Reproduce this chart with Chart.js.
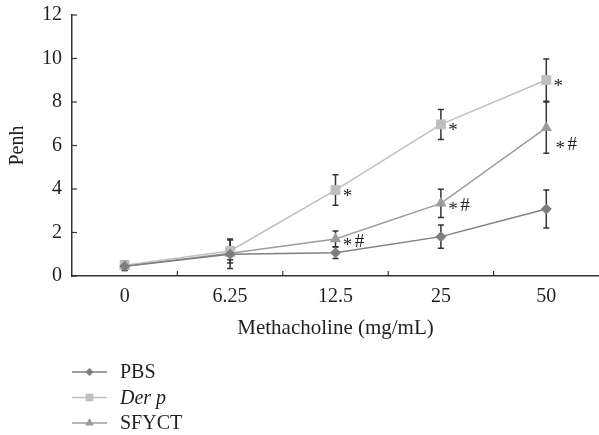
<!DOCTYPE html>
<html>
<head>
<meta charset="utf-8">
<script src="https://cdn.jsdelivr.net/npm/chart.js@4.4.1/dist/chart.umd.min.js"></script>
<style>
  html, body { margin: 0; padding: 0; background: #fff; }
</style>
</head>
<body>
<canvas id="myChart" width="599" height="435"></canvas>
<script>
// Datos
const dosis = ["0", "6.25", "12.5", "25", "50"]; // mg/mL
const pbs = [0.45, 1.0, 1.07, 1.81, 3.08];
const pbsErr = [0.2, 0.65, 0.27, 0.53, 0.87];
const derp = [0.5, 1.15, 3.95, 6.97, 9.01];
const derpErr = [0.2, 0.55, 0.7, 0.69, 0.97];
const sfyct = [0.45, 1.05, 1.7, 3.34, 6.82];
const sfyctErr = [0.15, 0.3, 0.37, 0.65, 1.18];
const derpMarcas = ["", "", "*", "*", "*"];
const sfyctMarcas = ["", "", "*#", "*#", "*#"];
const yTicks = [0, 2, 4, 6, 8, 10, 12];

const fuente = "'Liberation Serif', 'DejaVu Serif', serif";
const negro = "#333333";
const texto = "#231f20";

//--------------------------- barras de error, marcas y leyenda ---------------------------//
const extras = {
  id: "extras",
  beforeDatasetsDraw(chart) {
    const ctx = chart.ctx;
    const y = chart.scales.y;
    ctx.save();
    ctx.strokeStyle = negro;
    ctx.lineWidth = 1.5;
    chart.data.datasets.forEach((ds, i) => {
      const meta = chart.getDatasetMeta(i);
      meta.data.forEach((p, j) => {
        const top = y.getPixelForValue(ds.data[j] + ds.errores[j]);
        const bot = y.getPixelForValue(ds.data[j] - ds.errores[j]);
        ctx.beginPath();
        ctx.moveTo(p.x, top); ctx.lineTo(p.x, bot);
        ctx.moveTo(p.x - 3, top); ctx.lineTo(p.x + 3, top);
        ctx.moveTo(p.x - 3, bot); ctx.lineTo(p.x + 3, bot);
        ctx.stroke();
      });
    });
    ctx.restore();
  },
  afterDraw(chart) {
    const ctx = chart.ctx;
    const x = chart.scales.x, y = chart.scales.y;
    ctx.save();
    // ticks hacia adentro
    ctx.strokeStyle = negro;
    ctx.lineWidth = 1.2;
    yTicks.forEach((v) => {
      const py = y.getPixelForValue(v);
      ctx.beginPath(); ctx.moveTo(x.left, py); ctx.lineTo(x.left + 5, py); ctx.stroke();
    });
    const medio = (x.getPixelForValue(1) - x.getPixelForValue(0)) / 2;
    for (let i = 1; i < dosis.length; i++) {
      const px = x.getPixelForValue(i) - medio;
      ctx.beginPath(); ctx.moveTo(px, y.bottom); ctx.lineTo(px, y.bottom - 5); ctx.stroke();
    }

    // asteriscos y #
    ctx.fillStyle = texto;
    ctx.font = "19px " + fuente;
    ctx.textAlign = "center";
    ctx.textBaseline = "alphabetic";
    [[1, derpMarcas], [2, sfyctMarcas]].forEach(([i, marcas]) => {
      const meta = chart.getDatasetMeta(i);
      marcas.forEach((m, j) => {
        if (!m) return;
        const p = meta.data[j];
        let cx = p.x + 12, cy = p.y + 2;
        if (i === 2 && j === marcas.length - 1) { cx = p.x + 14; cy = p.y + 16; }
        if (m.includes("*")) ctx.fillText("*", cx, cy + 10);
        if (m.includes("#")) ctx.fillText("#", cx + 12, cy + 6);
      });
    });

    // leyenda
    ctx.textAlign = "left";
    chart.data.datasets.forEach((ds, i) => {
      const ly = 372 + i * 25.5;
      ctx.strokeStyle = ds.borderColor;
      ctx.lineWidth = 1.5;
      ctx.beginPath(); ctx.moveTo(72, ly); ctx.lineTo(107, ly); ctx.stroke();
      ctx.fillStyle = ds.pointBackgroundColor;
      Chart.helpers.drawPoint(ctx, { pointStyle: ds.pointStyle, radius: ds.pointRadius - 1.5, borderWidth: 0 }, 89.5, ly);
      ctx.fillStyle = texto;
      ctx.font = (ds.label === "Der p" ? "italic " : "") + "20px " + fuente;
      ctx.textBaseline = "middle";
      ctx.fillText(ds.label, 120, ly + 1);
    });
    ctx.restore();
  }
};

function serie(label, data, errores, color, estilo, radio) {
  return {
    label: label,
    data: data,
    errores: errores,
    borderColor: color,
    backgroundColor: color,
    pointBackgroundColor: color,
    pointBorderWidth: 0,
    pointStyle: estilo,
    pointRadius: radio,
    borderWidth: 1.5,
    tension: 0,
    clip: false,
  };
}

const config = {
  type: "line",
  data: {
    labels: dosis,
    datasets: [
      serie("PBS", pbs, pbsErr, "#7f7f7f", "rectRot", 5.5),
      serie("Der p", derp, derpErr, "#bfbfbf", "rect", 7),
      serie("SFYCT", sfyct, sfyctErr, "#9c9c9c", "triangle", 6.5),
    ],
  },
  options: {
    responsive: false,
    animation: false,
    devicePixelRatio: 1,
    layout: { autoPadding: false, padding: { top: 15, left: 0, right: 0, bottom: 94 } },
    plugins: { legend: { display: false }, tooltip: { enabled: false } },
    scales: {
      x: {
        offset: true,
        grid: { display: false, drawTicks: false },
        border: { color: negro, width: 1.5 },
        ticks: { color: texto, font: { family: fuente, size: 20 }, padding: 9 },
        title: { display: true, text: "Methacholine (mg/mL)", color: texto, font: { family: fuente, size: 21 }, padding: 0 },
        afterFit(s) { s.height = 65; s.paddingLeft = 0; s.paddingRight = 0; },
      },
      y: {
        min: 0,
        max: 12,
        grid: { display: false, drawTicks: false },
        border: { color: negro, width: 1.5 },
        ticks: { stepSize: 2, color: texto, font: { family: fuente, size: 20 }, padding: 10 },
        title: { display: true, text: "Penh", color: texto, font: { family: fuente, size: 20 }, padding: { top: 5.5, bottom: 0 } },
        afterFit(s) { s.width = 72; s.paddingTop = 0; s.paddingBottom = 0; },
      },
    },
  },
  plugins: [extras],
};

new Chart(document.getElementById("myChart"), config);
</script>
</body>
</html>
